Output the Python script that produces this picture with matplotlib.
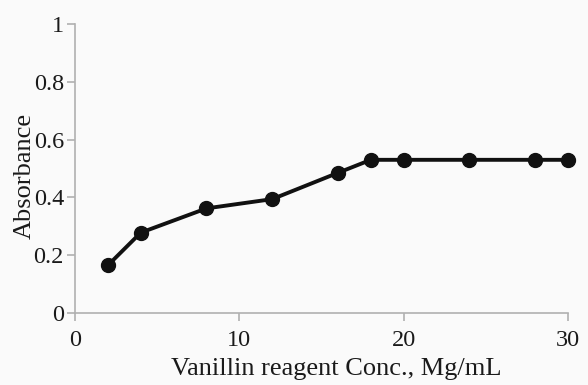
import matplotlib
matplotlib.use("Agg")
import matplotlib.pyplot as plt

conc = [2, 4, 8, 12, 16, 18, 20, 24, 28, 30]
absorbance = [0.165, 0.278, 0.362, 0.394, 0.485, 0.530, 0.530, 0.530, 0.530, 0.530]
xticks = [0, 10, 20, 30]
yticks = [0, 0.2, 0.4, 0.6, 0.8, 1]
ytick_labels = ["0", "0.2", "0.4", "0.6", "0.8", "1"]

plt.rcParams['font.family'] = ['Liberation Serif', 'DejaVu Serif']

fig = plt.figure(figsize=(5.88, 3.85), dpi=100)
fig.patch.set_facecolor('#fafafa')
ax = fig.add_axes([0.1276, 0.187, 0.8384, 0.7507])
ax.set_facecolor('#fafafa')

ax.plot(conc, absorbance, color='#111111', lw=2.8, marker='o', ms=10, clip_on=False, zorder=5)

ax.set_xlim(0, 30)
ax.set_ylim(0, 1)
ax.set_xticks(xticks)
ax.set_yticks(yticks)
ax.set_yticklabels(ytick_labels)
for s in ['top', 'right']:
    ax.spines[s].set_visible(False)
for s in ['left', 'bottom']:
    ax.spines[s].set_color('#b0b0b0')
    ax.spines[s].set_linewidth(1.2)
ax.tick_params(axis='both', colors='#b0b0b0', labelcolor='#1a1a1a', labelsize=17.5, length=6, width=1.2)
ax.tick_params(axis='x', pad=6)
ax.tick_params(axis='y', pad=2)

ax.set_xlabel('Vanillin reagent Conc., Mg/mL', fontsize=19, color='#1a1a1a')
ax.xaxis.set_label_coords(0.529, -0.156)
ax.set_ylabel('Absorbance', fontsize=19, color='#1a1a1a')
ax.yaxis.set_label_coords(-0.08, 0.474)

fig.savefig('out.png', dpi=100, facecolor=fig.get_facecolor())
